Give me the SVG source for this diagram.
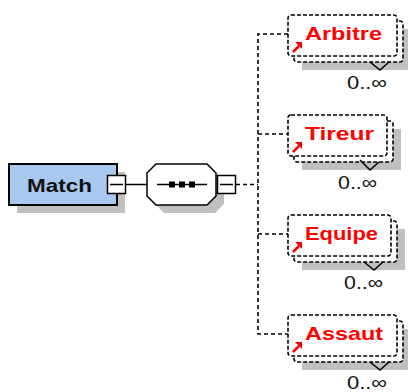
<svg xmlns="http://www.w3.org/2000/svg" width="408" height="392" viewBox="0 0 408 392">
<defs>
<style>
.conn{fill:none;stroke:#000;stroke-width:1.6;stroke-dasharray:4 3}
.solid{fill:none;stroke:#000;stroke-width:1.5}
.box{fill:#fff;stroke:#000;stroke-width:1.6;stroke-dasharray:4 2}
.shadow{fill:#c0c0c0}
.minus{fill:#fff;stroke:#000;stroke-width:1.5}
.name{font-family:"Liberation Sans",Arial,sans-serif;font-weight:bold;font-size:19px;fill:#ff0000}
.occ{font-family:"Liberation Sans",Arial,sans-serif;font-size:19px;fill:#111}
.ref{fill:#ff0000;stroke:none}
</style>
</defs>
<rect width="408" height="392" fill="#fff"/>

<g id="connectors">
  <line class="solid" x1="125" y1="184.5" x2="147" y2="184.5"/>
  <line class="conn" x1="236" y1="184.5" x2="258" y2="184.5"/>
  <polyline class="conn" points="288,34 258,34 258,334 288,334"/>
  <line class="conn" x1="258" y1="134" x2="288" y2="134"/>
  <line class="conn" x1="258" y1="234" x2="288" y2="234"/>
</g>

<g id="Match">
  <rect class="shadow" x="17" y="172" width="108" height="41"/>
  <rect x="9" y="164" width="108" height="41" fill="#a8c8f0" stroke="#000" stroke-width="2"/>
  <text x="27" y="192" font-family="'Liberation Sans',Arial,sans-serif" font-weight="bold" font-size="19" fill="#111" textLength="65" lengthAdjust="spacingAndGlyphs">Match</text>
  <rect class="minus" x="107.5" y="175.5" width="18" height="18"/>
  <line class="solid" x1="110" y1="184.5" x2="123" y2="184.5"/>
</g>

<g id="sequence">
  <polygon class="shadow" points="164,172 215,172 224,181 224,204 215,213 164,213 155,204 155,181"/>
  <polygon fill="#fff" stroke="#000" stroke-width="1.5" points="156,164 207,164 216,173 216,196 207,205 156,205 147,196 147,173"/>
  <line class="solid" x1="157" y1="184.5" x2="207" y2="184.5"/>
  <rect x="169" y="181.5" width="6" height="6" fill="#000"/>
  <rect x="179" y="181.5" width="6" height="6" fill="#000"/>
  <rect x="189" y="181.5" width="6" height="6" fill="#000"/>
  <rect class="minus" x="217.5" y="175.5" width="18" height="18"/>
  <line class="solid" x1="220" y1="184.5" x2="233" y2="184.5"/>
</g>

<g id="Arbitre">
  <rect class="shadow" x="302" y="29" width="109" height="41"/>
  <rect class="box" x="294" y="21" width="109" height="41" rx="3"/>
  <rect class="box" x="288" y="15" width="109" height="41" rx="3"/>
  <polyline class="solid" points="370,62 380,70 389,62"/>
  <line x1="293" y1="52" x2="299" y2="46" stroke="#f00" stroke-width="2.5"/>
  <polygon class="ref" points="302,42 302,49 295,42"/>
  <text class="name" x="305" y="40" textLength="77" lengthAdjust="spacingAndGlyphs">Arbitre</text>
  <text class="occ" x="347" y="89" textLength="40" lengthAdjust="spacingAndGlyphs">0..∞</text>
</g>

<g id="Tireur">
  <rect class="shadow" x="302" y="129" width="99" height="41"/>
  <rect class="box" x="294" y="121" width="99" height="41" rx="3"/>
  <rect class="box" x="288" y="115" width="99" height="41" rx="3"/>
  <polyline class="solid" points="360,160 370,170 379,162"/>
  <line x1="293" y1="152" x2="299" y2="146" stroke="#f00" stroke-width="2.5"/>
  <polygon class="ref" points="302,142 302,149 295,142"/>
  <text class="name" x="305" y="140" textLength="69" lengthAdjust="spacingAndGlyphs">Tireur</text>
  <text class="occ" x="338" y="189" textLength="39" lengthAdjust="spacingAndGlyphs">0..∞</text>
</g>

<g id="Equipe">
  <rect class="shadow" x="302" y="229" width="103" height="41"/>
  <rect class="box" x="294" y="221" width="103" height="41" rx="3"/>
  <rect class="box" x="288" y="215" width="103" height="41" rx="3"/>
  <polyline class="solid" points="364,262 374,270 383,262"/>
  <line x1="293" y1="252" x2="299" y2="246" stroke="#f00" stroke-width="2.5"/>
  <polygon class="ref" points="302,242 302,249 295,242"/>
  <text class="name" x="305" y="240" textLength="73" lengthAdjust="spacingAndGlyphs">Equipe</text>
  <text class="occ" x="344" y="289" textLength="39" lengthAdjust="spacingAndGlyphs">0..∞</text>
</g>

<g id="Assaut">
  <rect class="shadow" x="302" y="329" width="109" height="41"/>
  <rect class="box" x="294" y="321" width="109" height="41" rx="3"/>
  <rect class="box" x="288" y="315" width="109" height="41" rx="3"/>
  <polyline class="solid" points="370,362 380,370 389,362"/>
  <line x1="293" y1="352" x2="299" y2="346" stroke="#f00" stroke-width="2.5"/>
  <polygon class="ref" points="302,342 302,349 295,342"/>
  <text class="name" x="305" y="340" textLength="78" lengthAdjust="spacingAndGlyphs">Assaut</text>
  <text class="occ" x="347" y="389" textLength="40" lengthAdjust="spacingAndGlyphs">0..∞</text>
</g>
</svg>
